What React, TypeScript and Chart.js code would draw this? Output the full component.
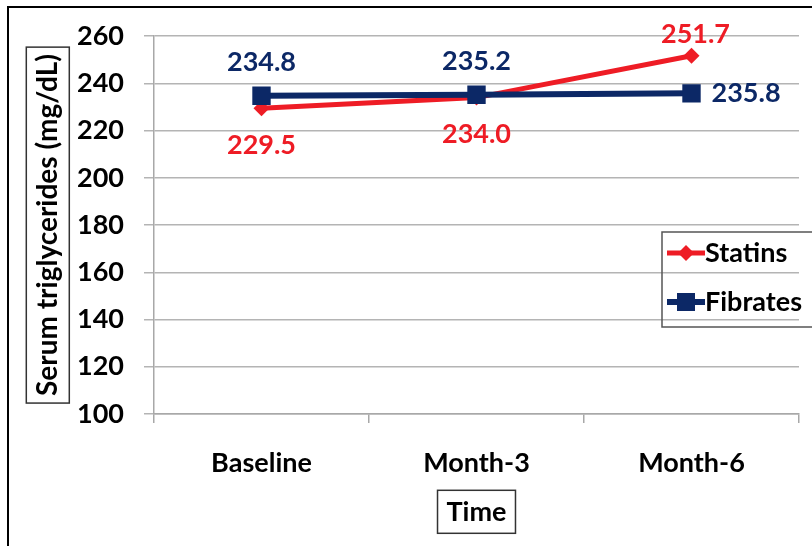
import React, { useEffect, useRef } from "react";
import { Chart, registerables } from "chart.js";

Chart.register(...registerables);

const categories = ["Baseline", "Month-3", "Month-6"];
const statins = [229.5, 234.0, 251.7];
const fibrates = [234.8, 235.2, 235.8];
const seriesNames = ["Statins", "Fibrates"];
const yTitle = "Serum triglycerides (mg/dL)";
const xTitle = "Time";
const yMin = 100;
const yMax = 260;
const yStep = 20;

const RED = "#EE1C25";
const NAVY = "#0C2866";
const FONT = "Lato, 'Open Sans', sans-serif";

// label placement per point (style only)
const statinsLabelPos = ["below", "below", "above"];
const fibratesLabelPos = ["above", "above", "right"];

const decorPlugin = {
  id: "decor",
  afterDatasetsDraw(chart: any) {
    const ctx = chart.ctx;
    ctx.save();
    const placements = [statinsLabelPos, fibratesLabelPos];
    chart.data.datasets.forEach((ds: any, di: number) => {
      const meta = chart.getDatasetMeta(di);
      meta.data.forEach((pt: any, i: number) => {
        const v = ds.data[i];
        const txt = v.toFixed(1);
        const pos = placements[di][i];
        ctx.font = `bold 27px ${FONT}`;
        ctx.fillStyle = ds.borderColor;
        ctx.textBaseline = "middle";
        let x = pt.x;
        let y = pt.y;
        if (pos === "above") {
          ctx.textAlign = "center";
          y = di === 0 ? pt.y - 22 : pt.y - 33;
          if (di === 0) x = pt.x + 4;
        } else if (pos === "below") {
          ctx.textAlign = "center";
          y = pt.y + 37;
        } else {
          ctx.textAlign = "left";
          x = pt.x + 20;
        }
        ctx.fillText(txt, x, y);
      });
    });
    ctx.restore();
  },
  afterDraw(chart: any) {
    const ctx = chart.ctx;
    ctx.save();
    const ys = chart.scales.y;
    const yt = ys.options.title;
    ctx.font = `bold ${yt.font.size}px ${FONT}`;
    const yw = ctx.measureText(yt.text).width;
    const ycx = ys.left + (yt.font.size * 1.2) / 2 + yt.padding.top;
    const ycy = (ys.top + ys.bottom) / 2;
    ctx.strokeStyle = "#333";
    ctx.lineWidth = 1.5;
    ctx.strokeRect(ycx - 21.5, ycy - yw / 2 - 7, 43, yw + 14);

    const xs = chart.scales.x;
    const xt = xs.options.title;
    ctx.font = `bold ${xt.font.size}px ${FONT}`;
    const xw = ctx.measureText(xt.text).width;
    const xcx = (xs.left + xs.right) / 2;
    const xcy = xs.bottom - (xt.font.size * 1.2) / 2 - xt.padding.bottom;
    ctx.strokeRect(xcx - xw / 2 - 9, xcy - 21.5, xw + 18, 43);

    const lx = 662;
    const ly = 232;
    ctx.strokeStyle = "#555";
    ctx.lineWidth = 1.5;
    ctx.strokeRect(lx, ly, 170, 95);
    chart.data.datasets.forEach((ds: any, i: number) => {
      const cy = ly + 21 + i * 49;
      ctx.strokeStyle = ds.borderColor;
      ctx.lineWidth = ds.borderWidth;
      ctx.beginPath();
      ctx.moveTo(lx + 5, cy);
      ctx.lineTo(lx + 43, cy);
      ctx.stroke();
      ctx.fillStyle = ds.borderColor;
      const mx = lx + 24;
      if (ds.pointStyle === "rect") {
        ctx.fillRect(mx - 9, cy - 9, 18, 18);
      } else {
        const r = ds.pointRadius;
        ctx.beginPath();
        ctx.moveTo(mx, cy - r);
        ctx.lineTo(mx + r, cy);
        ctx.lineTo(mx, cy + r);
        ctx.lineTo(mx - r, cy);
        ctx.closePath();
        ctx.fill();
      }
      ctx.fillStyle = "#000";
      ctx.font = `bold 27px ${FONT}`;
      ctx.textAlign = "left";
      ctx.textBaseline = "middle";
      ctx.fillText(ds.label, lx + 43, cy);
    });
    ctx.restore();
  },
};

export default function App() {
  const ref = useRef<HTMLCanvasElement | null>(null);
  useEffect(() => {
    if (!ref.current) return;
    const chart = new Chart(ref.current, {
      type: "line",
      data: {
        labels: categories,
        datasets: [
          {
            label: seriesNames[0],
            data: statins,
            borderColor: RED,
            backgroundColor: RED,
            borderWidth: 5,
            pointStyle: "rectRot",
            pointRadius: 8,
            pointBorderWidth: 0,
            tension: 0,
            order: 1,
          },
          {
            label: seriesNames[1],
            data: fibrates,
            borderColor: NAVY,
            backgroundColor: NAVY,
            borderWidth: 6,
            pointStyle: "rect",
            pointRadius: 13,
            pointBorderWidth: 0,
            tension: 0,
            order: 0,
          },
        ],
      },
      options: {
        responsive: false,
        animation: false,
        events: [],
        layout: { padding: { left: 0, top: 34, right: 7, bottom: 0 } },
        plugins: {
          legend: { display: false },
          tooltip: { enabled: false },
        },
        scales: {
          x: {
            type: "category",
            offset: true,
            grid: {
              offset: true,
              drawOnChartArea: false,
              drawTicks: true,
              tickLength: 9,
              color: "#A8A8A8",
              lineWidth: 1.5,
            },
            border: { display: true, color: "#A8A8A8", width: 1.5 },
            ticks: {
              color: "#000",
              font: { family: FONT, size: 27, weight: "bold" },
              padding: 24,
              maxRotation: 0,
            },
            title: {
              display: true,
              text: xTitle,
              color: "#000",
              font: { family: FONT, size: 27, weight: "bold" },
              padding: { top: 0, bottom: 18 },
            },
            afterFit: (s: any) => {
              s.height = 132;
            },
          },
          y: {
            min: yMin,
            max: yMax,
            ticks: {
              stepSize: yStep,
              color: "#000",
              font: { family: FONT, size: 27, weight: "bold" },
              padding: 20,
            },
            grid: {
              color: "#B4B4B4",
              lineWidth: 1.5,
              tickLength: 10,
            },
            border: { display: true, color: "#A8A8A8", width: 1.5 },
            title: {
              display: true,
              text: yTitle,
              color: "#000",
              font: { family: FONT, size: 28, weight: "bold" },
              padding: { top: 31, bottom: 0 },
            },
            afterFit: (s: any) => {
              s.width = 154;
            },
          },
        },
      },
      plugins: [decorPlugin],
    });
    return () => chart.destroy();
  }, []);

  return (
    <div
      style={{
        position: "fixed",
        left: 0,
        top: 0,
        width: 812,
        height: 546,
        overflow: "hidden",
        background: "#fff",
      }}
    >
      <div
        style={{
          position: "absolute",
          left: 7,
          top: 6,
          width: 900,
          height: 700,
          border: "2px solid #000",
        }}
      />
      <canvas
        ref={ref}
        width={812}
        height={546}
        style={{ position: "absolute", left: 0, top: 0, width: 812, height: 546 }}
      />
    </div>
  );
}
